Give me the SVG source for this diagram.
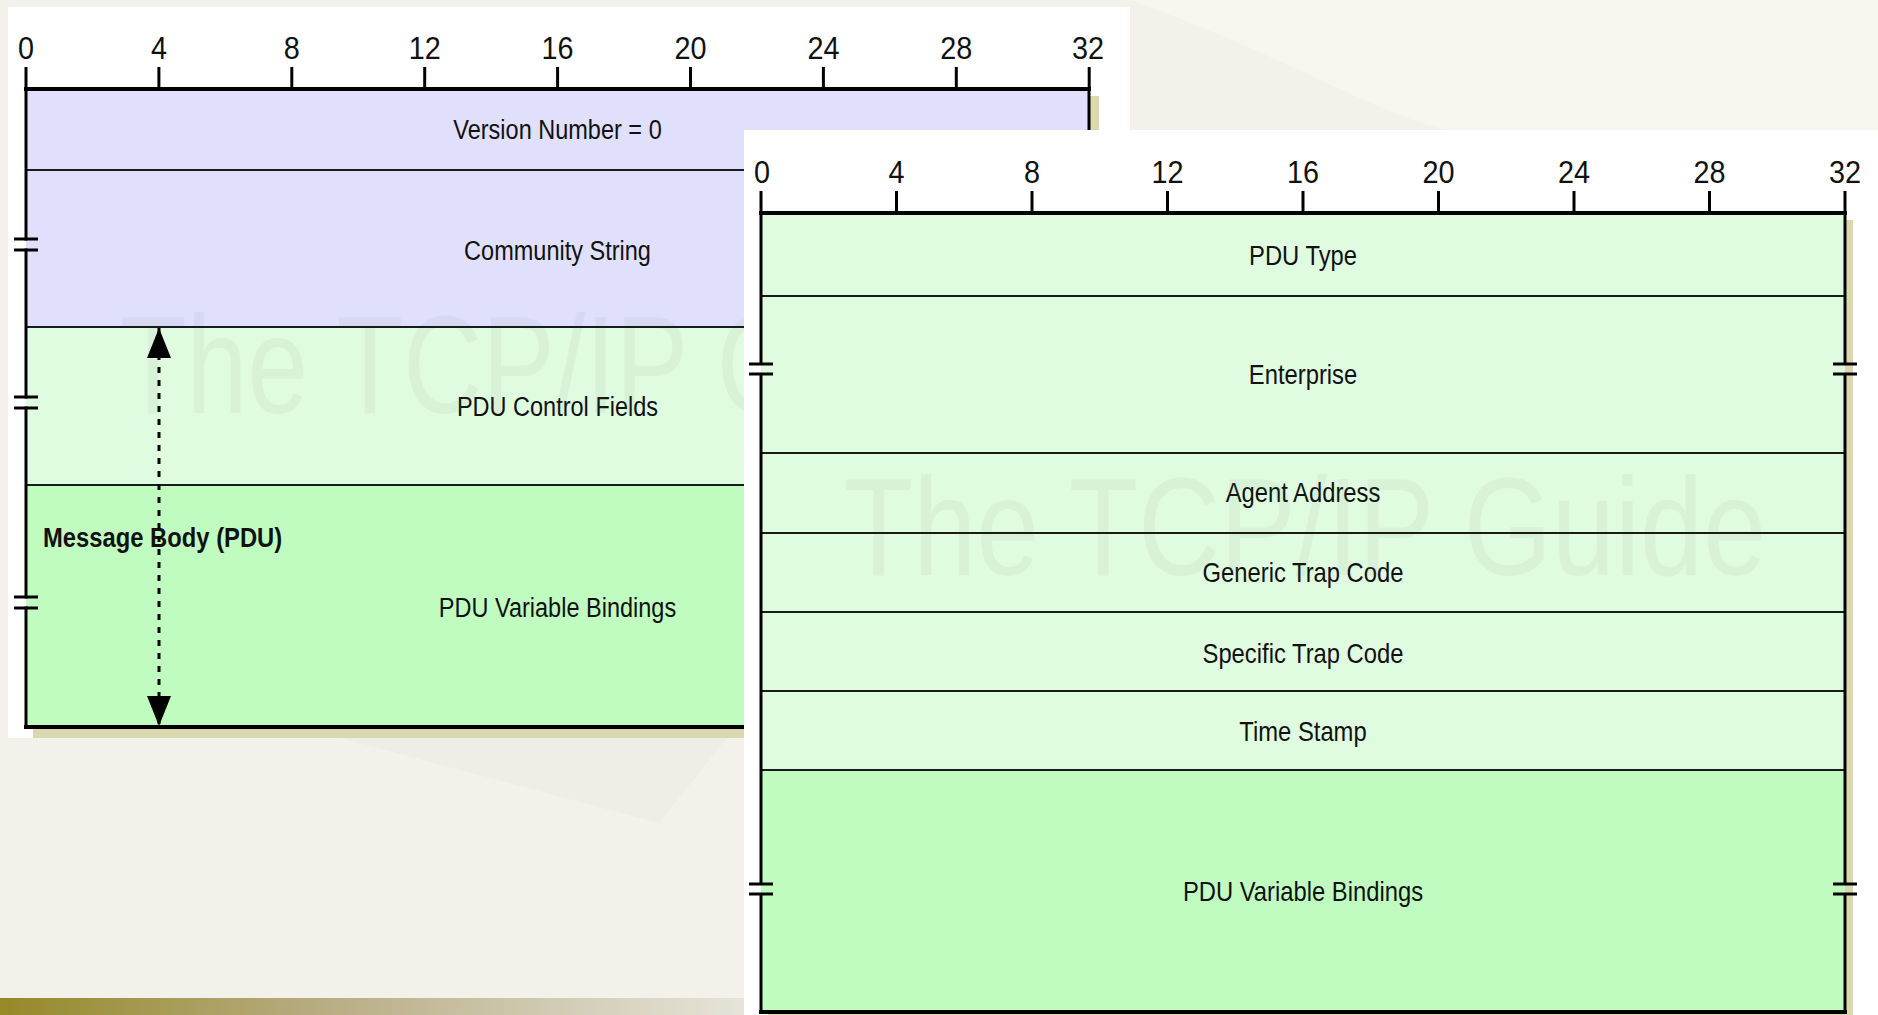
<svg xmlns="http://www.w3.org/2000/svg" width="1878" height="1015" viewBox="0 0 1878 1015">
<defs>
<linearGradient id="bar" x1="0" y1="0" x2="1" y2="0">
<stop offset="0" stop-color="#968928"/>
<stop offset="0.45" stop-color="#b9ae86"/>
<stop offset="1" stop-color="#e6e4da"/>
</linearGradient>
<marker id="ah" viewBox="0 0 30 24" refX="30" refY="12" markerWidth="30" markerHeight="24" markerUnits="userSpaceOnUse" orient="auto-start-reverse">
<path d="M0,0 L30,12 L0,24 Z" fill="#000"/>
</marker>
<style>
.t{font-family:"Liberation Sans",Arial,sans-serif;font-size:28px;fill:#111;text-anchor:middle}
.b{font-family:"Liberation Sans",Arial,sans-serif;font-size:28px;font-weight:bold;fill:#111}
.d{font-family:"Liberation Sans",Arial,sans-serif;font-size:32px;fill:#111;text-anchor:middle}
.wm{font-family:"Liberation Sans",Arial,sans-serif;font-size:140px;fill:#6f7f6f;opacity:0.07}
.div{stroke:#1a1a1a;stroke-width:2}
.edge{stroke:#000;stroke-width:3;fill:none}
.thick{stroke:#000;stroke-width:4}
.tick{stroke:#000;stroke-width:3}
.brk{stroke:#000;stroke-width:3}
.lav{fill:#e0e0fc}
.lg{fill:#e0fce0}
.g{fill:#c0fcc0}
.sh{fill:#dad8ae}
</style>
</defs>
<g id="background">
<rect x="0" y="0" width="1878" height="1015" fill="#f3f2ea"/>
<path d="M1130,0 C1300,60 1420,140 1470,130 L1878,130 L1878,0 Z" fill="#f6f5ee"/>
<polygon points="340,738 727,738 659,823" fill="#eeede6"/>
<rect x="0" y="998" width="744" height="17" fill="url(#bar)"/>
</g>
<g id="left-diagram">
<rect x="8" y="7" width="1122" height="731" fill="#ffffff"/>
<rect x="33" y="96" width="1066" height="642" class="sh"/>
<g id="ruler-left">
<g class="tick">
<line x1="26" y1="67" x2="26" y2="89"/><line x1="158.9" y1="67" x2="158.9" y2="89"/><line x1="291.8" y1="67" x2="291.8" y2="89"/><line x1="424.7" y1="67" x2="424.7" y2="89"/><line x1="557.6" y1="67" x2="557.6" y2="89"/><line x1="690.5" y1="67" x2="690.5" y2="89"/><line x1="823.4" y1="67" x2="823.4" y2="89"/><line x1="956.3" y1="67" x2="956.3" y2="89"/><line x1="1089.2" y1="67" x2="1089.2" y2="89"/>
</g>
<text class="d" transform="translate(26,59) scale(0.9,1)">0</text>
<text class="d" transform="translate(158.9,59) scale(0.9,1)">4</text>
<text class="d" transform="translate(291.8,59) scale(0.9,1)">8</text>
<text class="d" transform="translate(424.7,59) scale(0.9,1)">12</text>
<text class="d" transform="translate(557.6,59) scale(0.9,1)">16</text>
<text class="d" transform="translate(690.5,59) scale(0.9,1)">20</text>
<text class="d" transform="translate(823.4,59) scale(0.9,1)">24</text>
<text class="d" transform="translate(956.3,59) scale(0.9,1)">28</text>
<text class="d" transform="translate(1088,59) scale(0.9,1)">32</text>
</g>
<g id="version-number">
<rect x="26" y="89" width="1063" height="81" class="lav"/>
<text class="t" transform="translate(557.5,139) scale(0.84,1)">Version Number = 0</text>
</g>
<g id="community-string">
<rect x="26" y="170" width="1063" height="157" class="lav"/>
<text class="t" transform="translate(557.5,260) scale(0.84,1)">Community String</text>
</g>
<g id="pdu-control-fields">
<rect x="26" y="327" width="1063" height="158" class="lg"/>
<text class="t" transform="translate(557.5,416) scale(0.84,1)">PDU Control Fields</text>
</g>
<g id="pdu-variable-bindings-left">
<rect x="26" y="485" width="1063" height="242" class="g"/>
<text class="t" transform="translate(557.5,617) scale(0.84,1)">PDU Variable Bindings</text>
</g>
<text class="wm" transform="translate(120,413) scale(0.78,1)">The TCP/IP Guide</text>
<g id="left-lines">
<line x1="26" y1="170" x2="1089" y2="170" class="div"/>
<line x1="26" y1="327" x2="1089" y2="327" class="div"/>
<line x1="26" y1="485" x2="1089" y2="485" class="div"/>
<line x1="24" y1="89" x2="1091" y2="89" class="thick"/>
<line x1="24" y1="727" x2="1091" y2="727" class="thick"/>
<path class="edge" d="M26,89 V240.5 M26,248.5 V398.5 M26,406.5 V598.5 M26,606.5 V727"/>
<line x1="1089" y1="89" x2="1089" y2="727" class="edge"/>
<g class="brk">
<line x1="14" y1="239" x2="38" y2="239"/><line x1="14" y1="250" x2="38" y2="250"/>
<line x1="14" y1="397" x2="38" y2="397"/><line x1="14" y1="408" x2="38" y2="408"/>
<line x1="14" y1="597" x2="38" y2="597"/><line x1="14" y1="608" x2="38" y2="608"/>
</g>
</g>
<text id="message-body-label" class="b" transform="translate(43,547) scale(0.85,1)">Message Body (PDU)</text>
</g>
<g id="connectors">
<line x1="159" y1="328" x2="159" y2="726" stroke="#000" stroke-width="3" stroke-dasharray="6 7" marker-start="url(#ah)" marker-end="url(#ah)"/>
</g>
<g id="right-diagram">
<rect x="744" y="130" width="1134" height="885" fill="#ffffff"/>
<rect x="768" y="220" width="1085" height="800" class="sh"/>
<g id="ruler-right">
<g class="tick">
<line x1="761" y1="191" x2="761" y2="213"/><line x1="896.5" y1="191" x2="896.5" y2="213"/><line x1="1032" y1="191" x2="1032" y2="213"/><line x1="1167.5" y1="191" x2="1167.5" y2="213"/><line x1="1303" y1="191" x2="1303" y2="213"/><line x1="1438.5" y1="191" x2="1438.5" y2="213"/><line x1="1574" y1="191" x2="1574" y2="213"/><line x1="1709.5" y1="191" x2="1709.5" y2="213"/><line x1="1845" y1="191" x2="1845" y2="213"/>
</g>
<text class="d" transform="translate(762,183) scale(0.9,1)">0</text>
<text class="d" transform="translate(896.5,183) scale(0.9,1)">4</text>
<text class="d" transform="translate(1032,183) scale(0.9,1)">8</text>
<text class="d" transform="translate(1167.5,183) scale(0.9,1)">12</text>
<text class="d" transform="translate(1303,183) scale(0.9,1)">16</text>
<text class="d" transform="translate(1438.5,183) scale(0.9,1)">20</text>
<text class="d" transform="translate(1574,183) scale(0.9,1)">24</text>
<text class="d" transform="translate(1709.5,183) scale(0.9,1)">28</text>
<text class="d" transform="translate(1845,183) scale(0.9,1)">32</text>
</g>
<g id="pdu-type">
<rect x="761" y="213" width="1084" height="83" class="lg"/>
<text class="t" transform="translate(1303,265) scale(0.85,1)">PDU Type</text>
</g>
<g id="enterprise">
<rect x="761" y="296" width="1084" height="157" class="lg"/>
<text class="t" transform="translate(1303,384) scale(0.85,1)">Enterprise</text>
</g>
<g id="agent-address">
<rect x="761" y="453" width="1084" height="80" class="lg"/>
<text class="t" transform="translate(1303,502) scale(0.85,1)">Agent Address</text>
</g>
<g id="generic-trap-code">
<rect x="761" y="533" width="1084" height="79" class="lg"/>
<text class="t" transform="translate(1303,582) scale(0.85,1)">Generic Trap Code</text>
</g>
<g id="specific-trap-code">
<rect x="761" y="612" width="1084" height="79" class="lg"/>
<text class="t" transform="translate(1303,663) scale(0.85,1)">Specific Trap Code</text>
</g>
<g id="time-stamp">
<rect x="761" y="691" width="1084" height="79" class="lg"/>
<text class="t" transform="translate(1303,741) scale(0.85,1)">Time Stamp</text>
</g>
<g id="pdu-variable-bindings-right">
<rect x="761" y="770" width="1084" height="242" class="g"/>
<text class="t" transform="translate(1303,901) scale(0.85,1)">PDU Variable Bindings</text>
</g>
<text class="wm" transform="translate(844,575) scale(0.81,1)">The TCP/IP Guide</text>
<g id="right-lines">
<line x1="761" y1="296" x2="1845" y2="296" class="div"/>
<line x1="761" y1="453" x2="1845" y2="453" class="div"/>
<line x1="761" y1="533" x2="1845" y2="533" class="div"/>
<line x1="761" y1="612" x2="1845" y2="612" class="div"/>
<line x1="761" y1="691" x2="1845" y2="691" class="div"/>
<line x1="761" y1="770" x2="1845" y2="770" class="div"/>
<line x1="759" y1="213" x2="1847" y2="213" class="thick"/>
<line x1="759" y1="1012" x2="1847" y2="1012" class="thick"/>
<path class="edge" d="M761,213 V365 M761,373 V885 M761,893 V1012"/>
<path class="edge" d="M1845,213 V365 M1845,373 V885 M1845,893 V1012"/>
<g class="brk">
<line x1="749" y1="364" x2="773" y2="364"/><line x1="749" y1="374" x2="773" y2="374"/>
<line x1="749" y1="884" x2="773" y2="884"/><line x1="749" y1="894" x2="773" y2="894"/>
<line x1="1833" y1="364" x2="1857" y2="364"/><line x1="1833" y1="374" x2="1857" y2="374"/>
<line x1="1833" y1="884" x2="1857" y2="884"/><line x1="1833" y1="894" x2="1857" y2="894"/>
</g>
</g>
</g>
</svg>
